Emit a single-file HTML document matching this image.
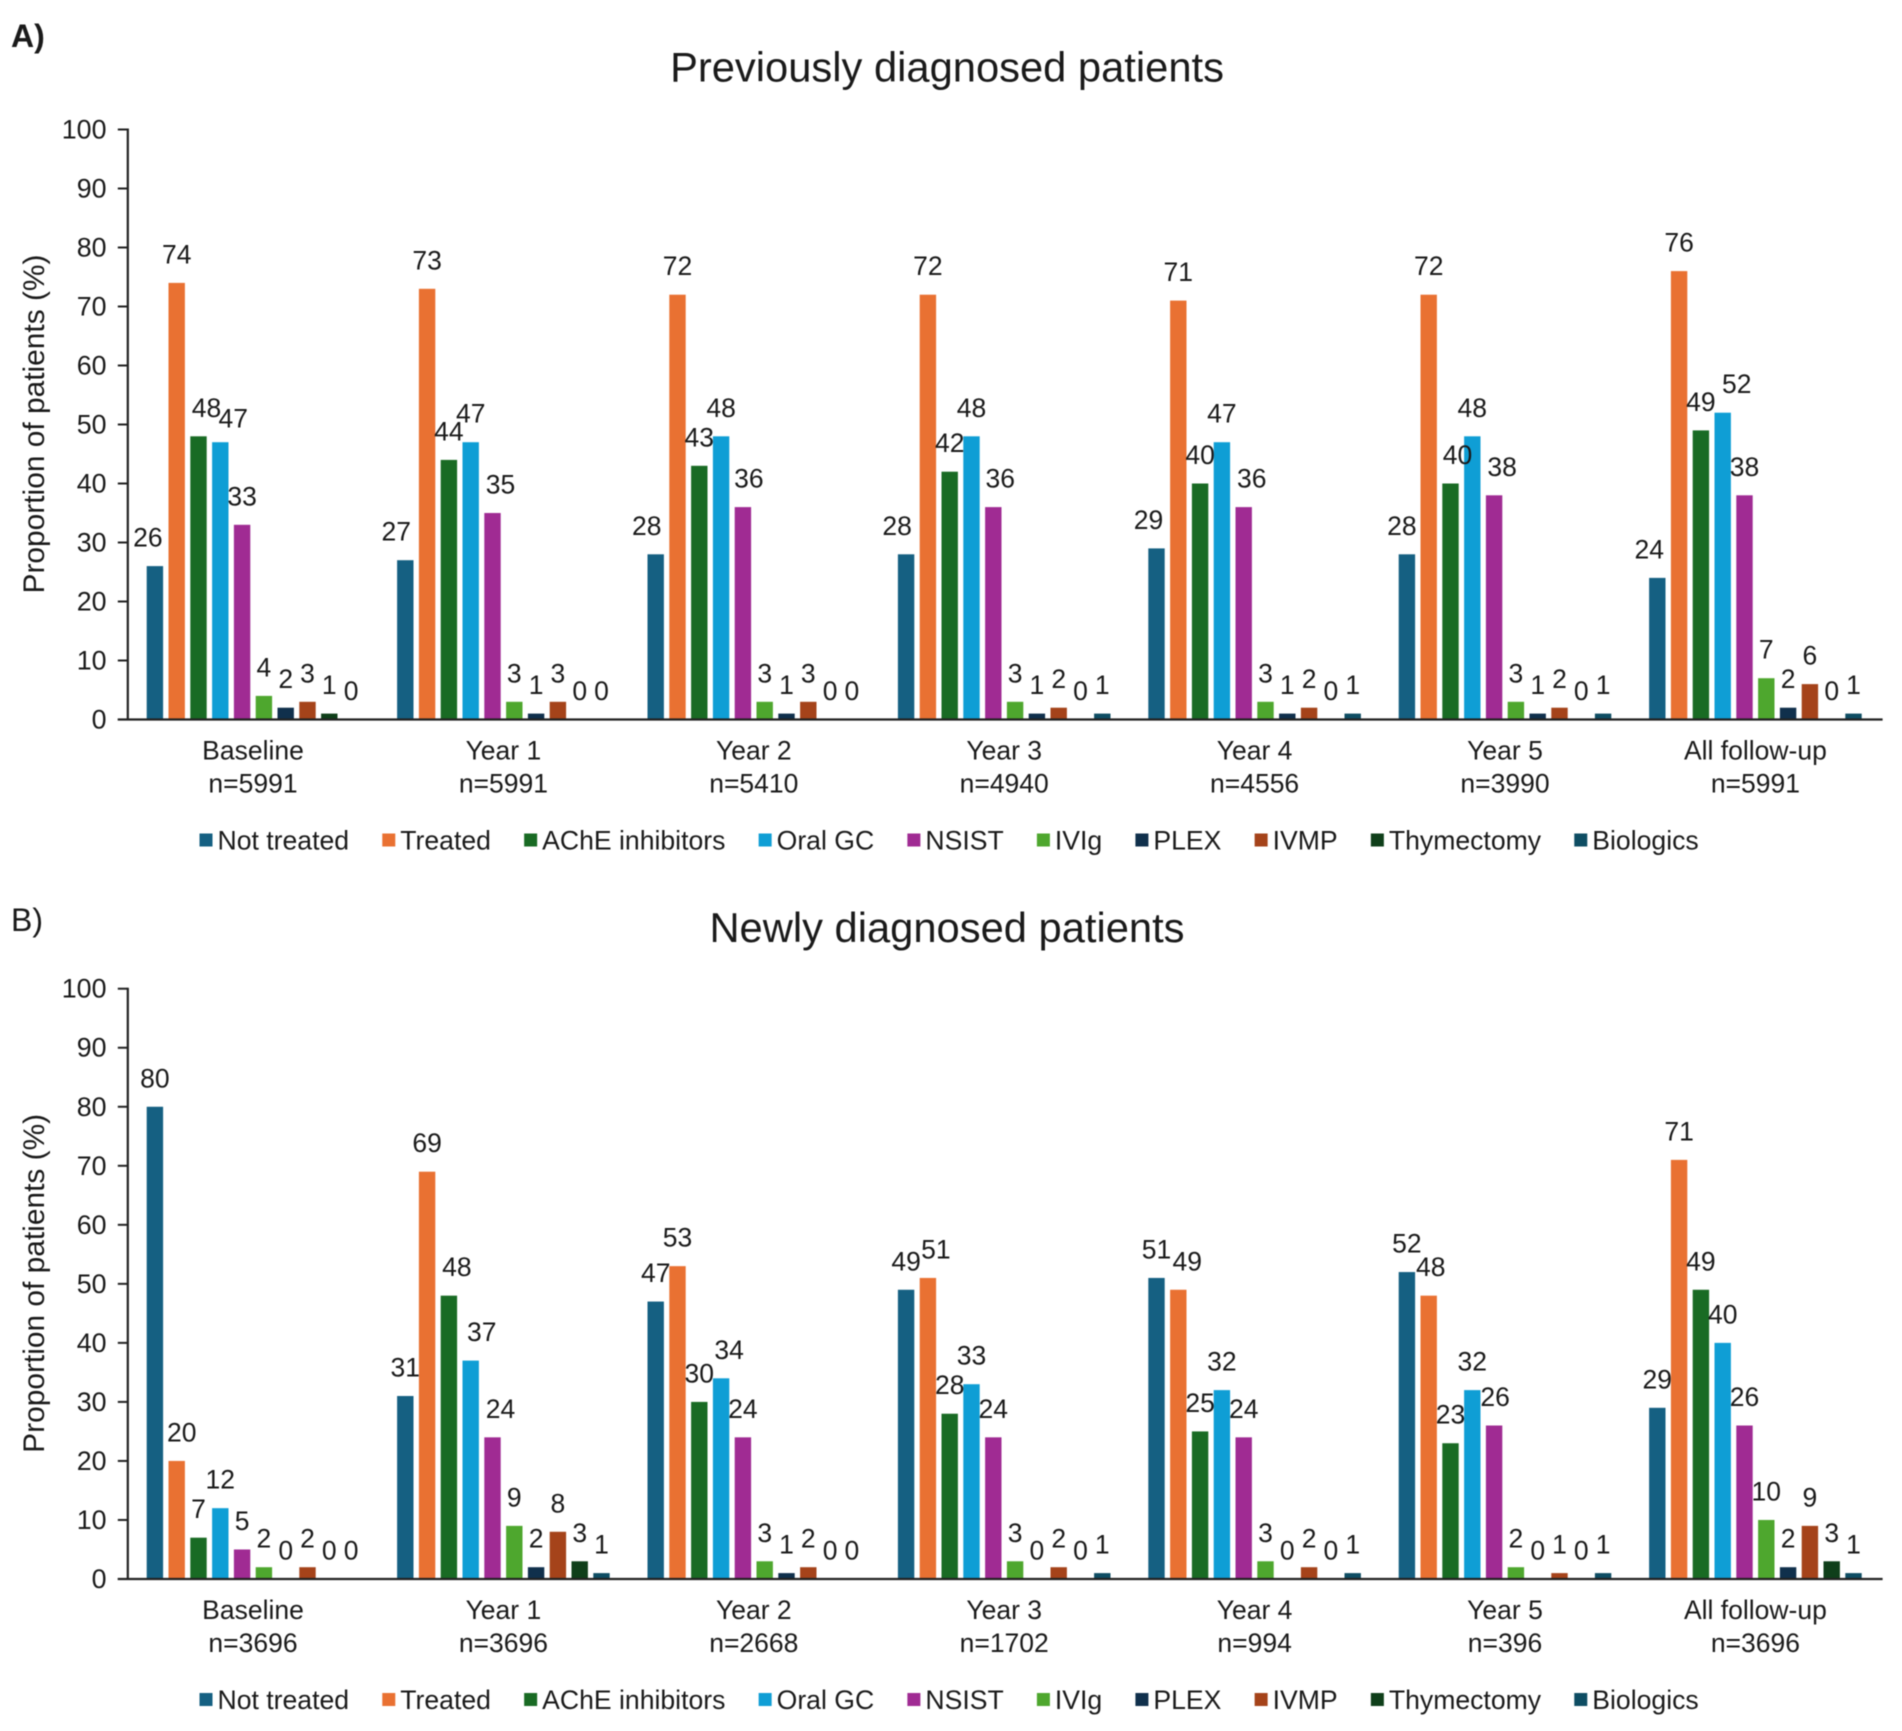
<!DOCTYPE html>
<html lang="en">
<head>
<meta charset="utf-8">
<title>Treatment use in previously and newly diagnosed patients</title>
<style>
html,body{margin:0;padding:0;background:#fff;}
svg{display:block;filter:blur(0.65px);font-family:"Liberation Sans",sans-serif;fill:#1a1a1a;}
</style>
</head>
<body>
<svg id="figure" xmlns="http://www.w3.org/2000/svg" width="1902" height="1731" viewBox="0 0 1902 1731"></svg>
<script>
const seriesNames = ['Not treated','Treated','AChE inhibitors','Oral GC','NSIST','IVIg','PLEX','IVMP','Thymectomy','Biologics'];
const seriesColors = ['#156082','#E97132','#196B24','#0F9ED5','#A02B93','#4EA72E','#10304C','#A5431A','#0F3F1A','#0E4D63'];
const categories = ['Baseline','Year 1','Year 2','Year 3','Year 4','Year 5','All follow-up'];
const yTicks = [0,10,20,30,40,50,60,70,80,90,100];

const samplesA = ['n=5991','n=5991','n=5410','n=4940','n=4556','n=3990','n=5991'];
const notTreatedA = [26,27,28,28,29,28,24];
const treatedA = [74,73,72,72,71,72,76];
const acheA = [48,44,43,42,40,40,49];
const oralGcA = [47,47,48,48,47,48,52];
const nsistA = [33,35,36,36,36,38,38];
const ivigA = [4,3,3,3,3,3,7];
const plexA = [2,1,1,1,1,1,2];
const ivmpA = [3,3,3,2,2,2,6];
const thymectomyA = [1,0,0,0,0,0,0];
const biologicsA = [0,0,0,1,1,1,1];

const samplesB = ['n=3696','n=3696','n=2668','n=1702','n=994','n=396','n=3696'];
const notTreatedB = [80,31,47,49,51,52,29];
const treatedB = [20,69,53,51,49,48,71];
const acheB = [7,48,30,28,25,23,49];
const oralGcB = [12,37,34,33,32,32,40];
const nsistB = [5,24,24,24,24,26,26];
const ivigB = [2,9,3,3,3,2,10];
const plexB = [0,2,1,0,0,0,2];
const ivmpB = [2,8,2,2,2,1,9];
const thymectomyB = [0,3,0,0,0,0,3];
const biologicsB = [0,1,0,1,1,1,1];

/* Label collision nudges, keyed "group:series", as seen in the source chart */
const labelNudgesA = {'0:0':[-7,0],'0:2':[8,0],'0:3':[13,5],
  '1:0':[-9,0],'1:4':[8,0],'2:0':[-9,0],'2:4':[6,0],'3:0':[-9,0],'3:4':[7,0],
  '4:0':[-8,0],'4:4':[8,0],'5:0':[-5,0],'5:2':[7,0],'5:4':[8,0],'6:0':[-8,0],'6:3':[14,0]};
const labelNudgesB = {'0:1':[5,0],'1:2':[8,0],'1:3':[11,0],'1:4':[8,0],'2:3':[8,0],
  '3:1':[8,0],'4:1':[9,0],'5:1':[2,0],'5:4':[1,0]};

const NS = 'http://www.w3.org/2000/svg';
const svg = document.getElementById('figure');

function make(tag, attrs, parent, text) {
  const el = document.createElementNS(NS, tag);
  for (const k in attrs) el.setAttribute(k, attrs[k]);
  if (text !== undefined) el.textContent = text;
  parent.appendChild(el);
  return el;
}

const plotLeft = 127.8;
const groupPitch = 250.4;
const barPitch = 21.8;
const barWidth = 16.4;
const xAxisEnd = plotLeft + groupPitch * 7 + 2;

function groupCenter(g) { return plotLeft + groupPitch * (g + 0.5); }
function barCenter(g, s) { return groupCenter(g) + (s - 4.5) * barPitch; }

function drawPanel(cfg) {
  const yScale = v => cfg.y0 - (v / 100) * (cfg.y0 - cfg.y100);
  const panel = make('g', {}, svg);
  
  

  const tag = make('text', {x: 11, y: cfg.tagY, 'font-size': 32, 'font-weight': cfg.tagWeight}, panel, cfg.tag);
  
  

  const title = make('text', {x: 947, y: cfg.titleY, 'font-size': 41.7, 'text-anchor': 'middle'}, panel, cfg.title);
  
  

  const midY = (cfg.y0 + cfg.y100) / 2;
  const yTitle = make('text', {x: 0, y: 0, 'font-size': 29.9, 'text-anchor': 'middle',
    transform: 'translate(44,' + (midY - 0.5) + ') rotate(-90)'}, panel, 'Proportion of patients (%)');
  
  

  yTicks.forEach(t => {
    const y = yScale(t);
    const tick = make('line', {x1: plotLeft - 10, x2: plotLeft, y1: y, y2: y, stroke: '#222', 'stroke-width': 2}, panel);
    
    
    const lab = make('text', {x: 106.5, y: y + 9, 'font-size': 26.8, 'text-anchor': 'end'}, panel, t);
    
    
  });

  cfg.series.forEach((vals, s) => {
    vals.forEach((v, g) => {
      const cx = barCenter(g, s);
      const top = yScale(v);
      const bar = make('rect', {x: cx - barWidth / 2, y: top, width: barWidth, height: cfg.y0 - top, fill: seriesColors[s]}, panel);
      
      
    });
  });

  cfg.series.forEach((vals, s) => {
    vals.forEach((v, g) => {
      const n = cfg.nudges[g + ':' + s] || [0, 0];
      const lab = make('text', {x: barCenter(g, s) + n[0], y: yScale(v) - 19.5 + n[1], 'font-size': 26.5, 'text-anchor': 'middle'}, panel, v);
      
      
    });
  });

  const yAxis = make('line', {x1: plotLeft, x2: plotLeft, y1: cfg.y100 - 1, y2: cfg.y0 + 1, stroke: '#222', 'stroke-width': 2.2}, panel);
  
  
  const xAxis = make('line', {x1: plotLeft - 10, x2: xAxisEnd, y1: cfg.y0, y2: cfg.y0, stroke: '#222', 'stroke-width': 2.2}, panel);
  
  

  categories.forEach((c, g) => {
    const l1 = make('text', {x: groupCenter(g), y: cfg.y0 + 40, 'font-size': 26.5, 'text-anchor': 'middle'}, panel, c);
    
    
    const l2 = make('text', {x: groupCenter(g), y: cfg.y0 + 73, 'font-size': 26.5, 'text-anchor': 'middle'}, panel, cfg.samples[g]);
    
    
  });

  const legend = make('g', {}, panel);
  
  
  let lx = 199.5;
  const ly = cfg.y0 + 121;
  seriesNames.forEach((name, s) => {
    const entry = make('g', {}, legend);
    
    
    make('rect', {x: lx, y: ly - 7, width: 13, height: 13, fill: seriesColors[s]}, entry);
    const t = make('text', {x: lx + 18, y: ly + 9, 'font-size': 26.6}, entry, name);
    lx += 18 + t.getComputedTextLength() + 33.2;
  });
}

drawPanel({id:'previously-diagnosed', tag:'A)', tagY:47, tagWeight:'bold', title:'Previously diagnosed patients', titleY:81.5,
  y0:719.5, y100:129.5, samples:samplesA, nudges:labelNudgesA,
  series:[notTreatedA,treatedA,acheA,oralGcA,nsistA,ivigA,plexA,ivmpA,thymectomyA,biologicsA]});
drawPanel({id:'newly-diagnosed', tag:'B)', tagY:931, tagWeight:'normal', title:'Newly diagnosed patients', titleY:942,
  y0:1579, y100:988.7, samples:samplesB, nudges:labelNudgesB,
  series:[notTreatedB,treatedB,acheB,oralGcB,nsistB,ivigB,plexB,ivmpB,thymectomyB,biologicsB]});
</script>
</body>
</html>
